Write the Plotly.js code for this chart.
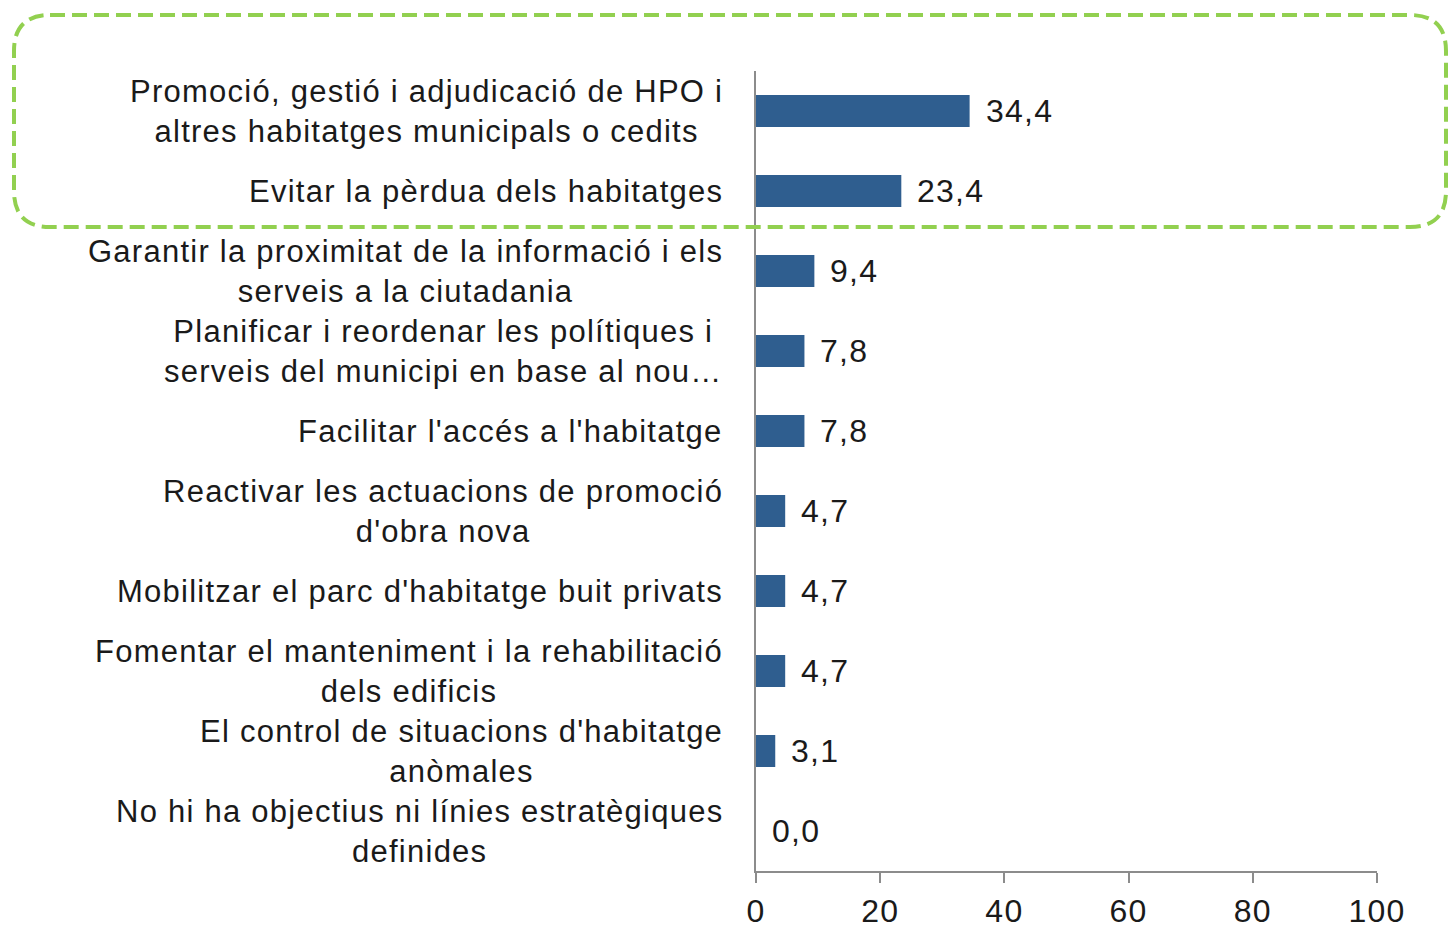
<!DOCTYPE html>
<html>
<head>
<meta charset="utf-8">
<script src="https://cdn.plot.ly/plotly-3.0.1.min.js"></script>
<style>
html,body{margin:0;padding:0;background:#fff;}
#chart{width:1448px;height:928px;}
svg text{letter-spacing:1.25px;}
</style>
</head>
<body>
<div id="chart"></div>
<script>
const categories = [
  "Promoció, gestió i adjudicació de HPO i<br>altres habitatges municipals o cedits",
  "Evitar la pèrdua dels habitatges",
  "Garantir la proximitat de la informació i els<br>serveis a la ciutadania",
  "Planificar i reordenar les polítiques i<br>serveis del municipi en base al nou…",
  "Facilitar l'accés a l'habitatge",
  "Reactivar les actuacions de promoció<br>d'obra nova",
  "Mobilitzar el parc d'habitatge buit privats",
  "Fomentar el manteniment i la rehabilitació<br>dels edificis",
  "El control de situacions d'habitatge<br>anòmales",
  "No hi ha objectius ni línies estratègiques<br>definides"
];
const values = [34.4, 23.4, 9.4, 7.8, 7.8, 4.7, 4.7, 4.7, 3.1, 0.0];
const xTicks = [0, 20, 40, 60, 80, 100];

const W = 1448, H = 928;
const M = {l: 756, r: 71, t: 71, b: 57};
const plotW = W - M.l - M.r, plotH = H - M.t - M.b;
const FONT = "Liberation Sans, Arial, sans-serif";
const TXT = '#1a1a1a';
const FS = 31;

const trace = {
  type: 'bar',
  orientation: 'h',
  x: values,
  y: categories.map((c, i) => i),
  width: 0.4,
  marker: {color: '#2f5e8f'},
  hoverinfo: 'skip'
};

const annotations = [];
categories.forEach((c, i) => {
  annotations.push({
    xref: 'paper', yref: 'y', x: 0, y: i, xanchor: 'right', yanchor: 'middle',
    xshift: -31, text: c, align: 'center', showarrow: false,
    font: {family: FONT, size: FS, color: TXT}
  });
  annotations.push({
    xref: 'x', yref: 'y', x: values[i], y: i, xanchor: 'left', yanchor: 'middle',
    xshift: 14, text: values[i].toFixed(1).replace('.', ','), showarrow: false,
    font: {family: FONT, size: FS + 1, color: TXT}
  });
});

// highlight box around the first two categories (pixel geometry -> paper units)
function px2x(px) { return (px - M.l) / plotW; }
function px2y(py) { return (H - M.b - py) / plotH; }
const bx0 = 14, bx1 = 1446, by0 = 15, by1 = 227, rr = 36;
const path = [
  'M', px2x(bx0 + rr), px2y(by0),
  'L', px2x(bx1 - rr), px2y(by0),
  'Q', px2x(bx1), px2y(by0), px2x(bx1), px2y(by0 + rr),
  'L', px2x(bx1), px2y(by1 - rr),
  'Q', px2x(bx1), px2y(by1), px2x(bx1 - rr), px2y(by1),
  'L', px2x(bx0 + rr), px2y(by1),
  'Q', px2x(bx0), px2y(by1), px2x(bx0), px2y(by1 - rr),
  'L', px2x(bx0), px2y(by0 + rr),
  'Q', px2x(bx0), px2y(by0), px2x(bx0 + rr), px2y(by0),
  'Z'
].join(' ');

const layout = {
  width: W, height: H,
  margin: M,
  paper_bgcolor: '#fff', plot_bgcolor: '#fff',
  showlegend: false,
  font: {family: FONT, color: TXT},
  xaxis: {
    range: [0, 100], tickvals: xTicks, ticktext: xTicks.map(String),
    showgrid: false, zeroline: false,
    showline: true, linecolor: '#8c8c8c', linewidth: 2,
    ticks: 'outside', ticklen: 10, tickwidth: 2, tickcolor: '#8c8c8c',
    tickfont: {family: FONT, size: FS + 1, color: TXT},
    ticklabelstandoff: 1,
    fixedrange: true
  },
  yaxis: {
    range: [9.5, -0.5], showticklabels: false, ticks: '',
    showgrid: false, zeroline: false,
    showline: true, linecolor: '#8c8c8c', linewidth: 2,
    fixedrange: true
  },
  annotations: annotations,
  shapes: [{
    type: 'path', xref: 'paper', yref: 'paper', path: path,
    line: {color: '#92d050', width: 4, dash: '15px,7px'},
    fillcolor: 'rgba(0,0,0,0)'
  }]
};

Plotly.newPlot('chart', [trace], layout, {displayModeBar: false, staticPlot: true});
</script>
</body>
</html>
